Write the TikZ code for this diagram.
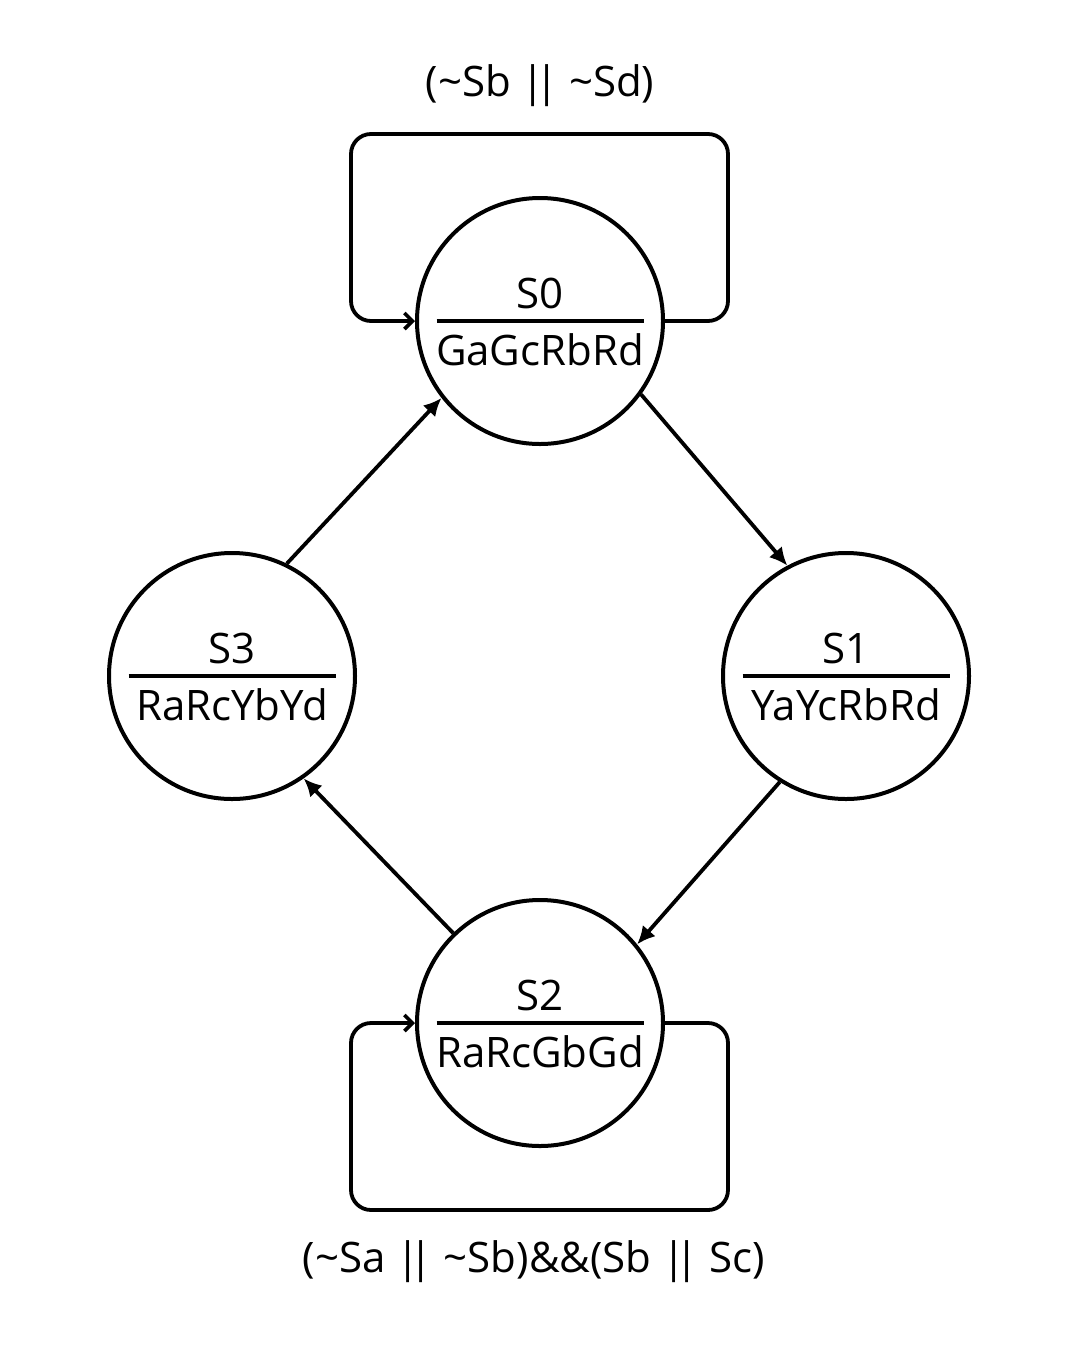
\documentclass[tikz,border=0pt]{standalone}
\usepackage{fontspec}
\setmainfont{Open Sans}
\usetikzlibrary{arrows.meta}

\newcommand{\orbars}{|\kern-0.24em|}

\tikzstyle{state}=[circle,draw=black,line width=2pt,minimum size=123pt,inner sep=0pt]
\tikzstyle{tag}=[inner sep=0pt,font=\fontsize{21pt}{25pt}\selectfont]
\tikzstyle{bar}=[line width=2pt]
\tikzstyle{edge}=[line width=1.9pt,-{Latex[length=9pt,width=8.5pt]}]
\tikzstyle{selfloop}=[line width=1.9pt,rounded corners=10pt,-{Straight Barb[length=4pt,width=8pt,line width=1.8pt]}]

\begin{document}
\begin{tikzpicture}[x=0.5pt,y=-0.5pt, auto,swap]
	\useasboundingbox (0,0) rectangle (1080,1350);
	%The states, each with its name over its outputs
	\foreach \pos/\name/\out in {{(540,321)/S0/GaGcRbRd},	{(846,676)/S1/YaYcRbRd},
								{(540,1023)/S2/RaRcGbGd},	{(232,676)/S3/RaRcYbYd}}
	{
		\node[state] (\name) at \pos {};
		\node[tag,anchor=base] (\name name) at ([yshift=6.5pt]\name.center) {\name};
		\draw[bar] ([xshift=-51.75pt]\name.center) -- ([xshift=51.75pt]\name.center);
		\node[tag,anchor=base] (\name out) at ([yshift=-22pt]\name.center) {\out};
	}
	%The transitions between the states
	\draw[edge] (S0.-36) -- (S1.118);
	\draw[edge] (S1.-122) -- (S2.39);
	\draw[edge] (S2.134) -- (S3.-55);
	\draw[edge] (S3.64) -- (S0.-142);
	%The self loops
	\draw[selfloop] (S0.east) -- ++(63,0) -- ++(0,-187) -- ++(-377,0) -- ++(0,187) -- (S0.west);
	\draw[selfloop] (S2.east) -- ++(63,0) -- ++(0,187) -- ++(-377,0) -- ++(0,-187) -- (S2.west);
	%The loop conditions
	\node[tag] (cond0) at (540,86) {(\textasciitilde Sb \orbars{} \textasciitilde Sd)};
	\node[tag] (cond2) at (534,1262) {(\textasciitilde Sa \orbars{} \textasciitilde Sb)\&\&(Sb \orbars{} Sc)};
\end{tikzpicture}
\end{document}
